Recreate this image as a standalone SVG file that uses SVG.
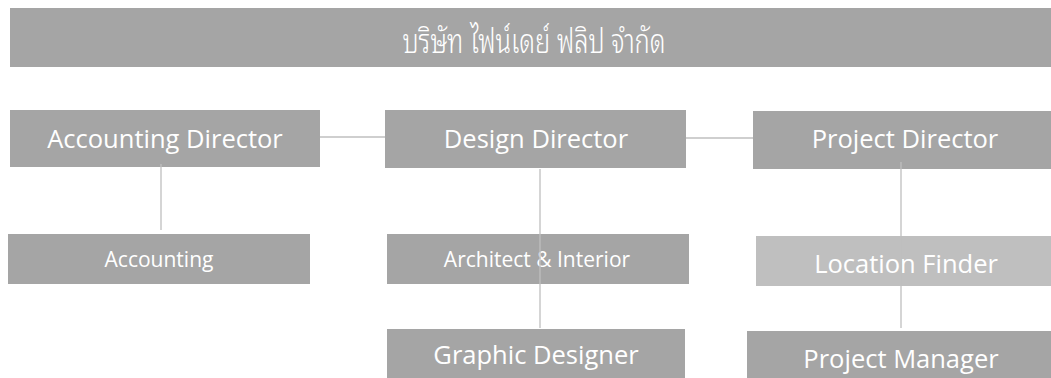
<svg xmlns="http://www.w3.org/2000/svg" width="1051" height="378" viewBox="0 0 1051 378">
<style>
.box{fill:#a5a5a5}
.light{fill:#bfbfbf}
.t{fill:#ffffff;font-family:"Open Sans","Noto Sans",sans-serif;text-anchor:middle}
.big{font-size:25.5px}
.small{font-size:21px}
.thai{fill:#ffffff;font-family:"Noto Sans Thai Looped","Noto Sans Thai",sans-serif;font-size:25.5px;font-weight:300;text-anchor:middle}
.con line{stroke:#bfbfbf;stroke-width:1.3}
</style>
<rect width="1051" height="378" fill="#ffffff"/>
<g id="company">
<rect class="box" x="10" y="8" width="1041" height="59"/>
<text class="thai" transform="translate(534 53) scale(1 1.35)" x="0" y="0">บริษัท ไฟน์เดย์ ฟลิป จำกัด</text>
</g>
<g id="accounting-director">
<rect class="box" x="10" y="110" width="310" height="57"/>
<text class="t big" x="165" y="148">Accounting Director</text>
</g>
<g id="design-director">
<rect class="box" x="385" y="110" width="301" height="58"/>
<text class="t big" x="536" y="148">Design Director</text>
</g>
<g id="project-director">
<rect class="box" x="753" y="111" width="298" height="58"/>
<text class="t big" x="905" y="148">Project Director</text>
</g>
<g id="accounting">
<rect class="box" x="8" y="234" width="302" height="50"/>
<text class="t small" x="159" y="267">Accounting</text>
</g>
<g id="architect-interior">
<rect class="box" x="387" y="234" width="302" height="50"/>
<text class="t small" x="537" y="267">Architect &amp; Interior</text>
</g>
<g id="location-finder">
<rect class="light" x="756" y="236" width="295" height="50"/>
<text class="t big" x="906" y="273">Location Finder</text>
</g>
<g id="graphic-designer">
<rect class="box" x="387" y="329" width="298" height="49"/>
<text class="t big" x="536" y="364">Graphic Designer</text>
</g>
<g id="project-manager">
<rect class="box" x="747" y="331" width="304" height="47"/>
<text class="t big" x="901" y="368">Project Manager</text>
</g>
<g class="con" id="connectors">
<line x1="320" y1="137" x2="385" y2="137"/>
<line x1="686" y1="138" x2="753" y2="138"/>
<line x1="161" y1="164" x2="161" y2="230"/>
<line x1="540" y1="169" x2="540" y2="328"/>
<line x1="901" y1="162" x2="901" y2="328"/>
</g>
</svg>
